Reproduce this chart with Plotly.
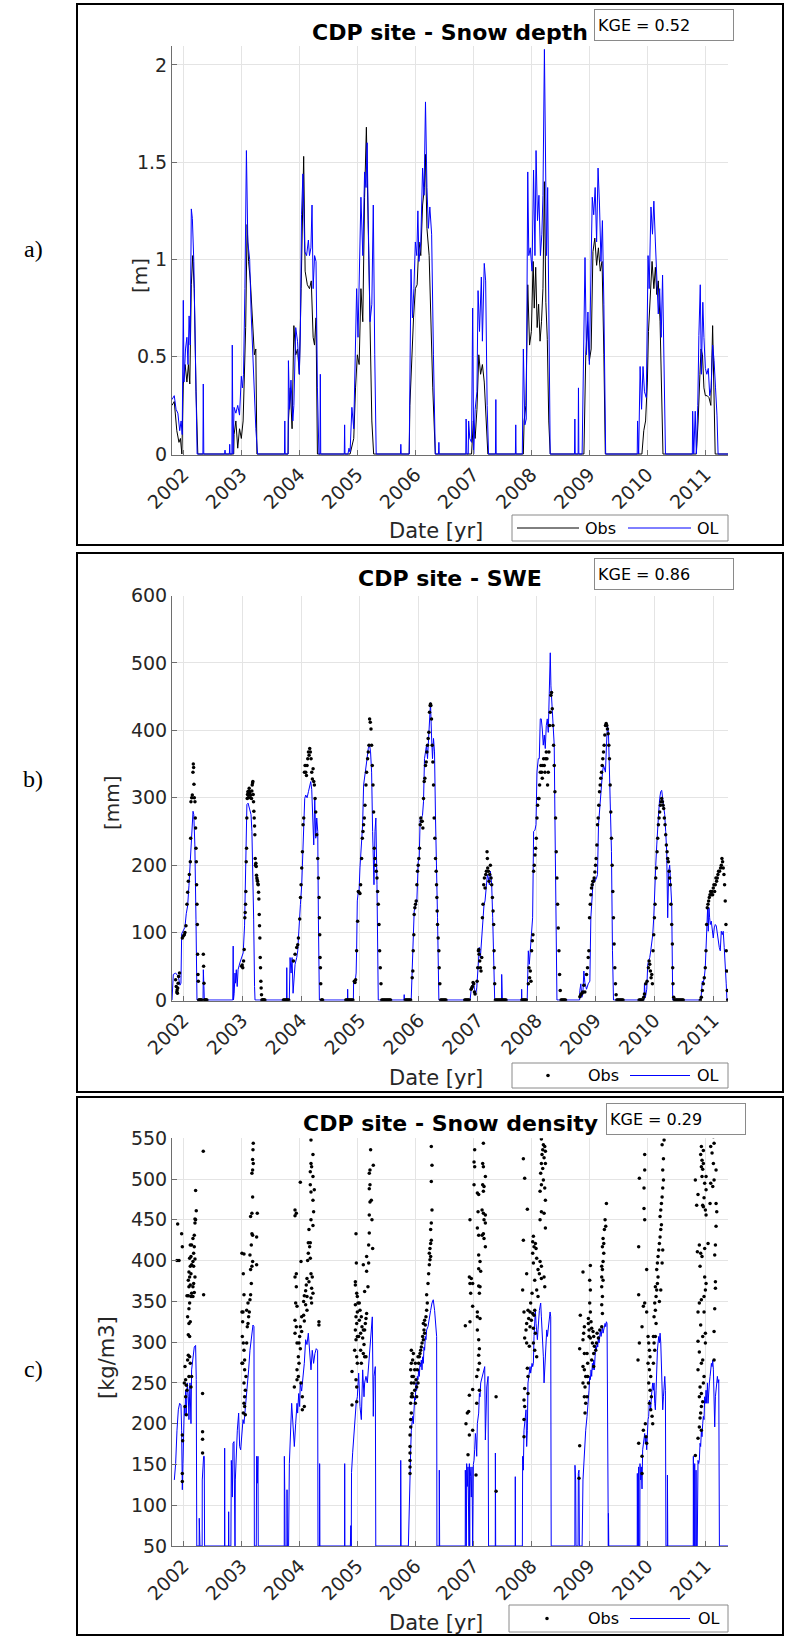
import plotly.graph_objects as go

# ---------------- axis ticks / labels ----------------
years = [2002, 2003, 2004, 2005, 2006, 2007, 2008, 2009, 2010, 2011]
year_labels = [str(y) for y in years]
depth_ticks = [0, 0.5, 1, 1.5, 2]
depth_tick_labels = ["0", "0.5", "1", "1.5", "2"]
swe_ticks = [0, 100, 200, 300, 400, 500, 600]
rho_ticks = [50, 100, 150, 200, 250, 300, 350, 400, 450, 500, 550]

kge_depth = "0.52"
kge_swe = "0.86"
kge_rho = "0.29"

# ---------------- snow depth [m]: (decimal year, value) ----------------
depth_obs = [
    (2001.805, 0.25), (2001.844, 0.27), (2001.888, 0.12), (2001.925, 0.06), (2001.950, 0.08), (2001.975, 0.0),
    (2002.000, 0.36), (2002.031, 0.46), (2002.062, 0.37), (2002.088, 0.46), (2002.112, 0.36), (2002.138, 0.87),
    (2002.162, 1.02), (2002.188, 0.85), (2002.219, 0.32), (2002.250, 0.0),
    (2002.869, 0.0), (2002.875, 0.10), (2002.906, 0.17), (2002.938, 0.03), (2002.969, 0.13), (2003.000, 0.08),
    (2003.031, 0.17), (2003.050, 0.42), (2003.075, 0.65), (2003.100, 1.18), (2003.125, 0.99), (2003.156, 0.89),
    (2003.188, 0.72), (2003.225, 0.51), (2003.250, 0.54), (2003.269, 0.0),
    (2003.806, 0.0), (2003.812, 0.17), (2003.844, 0.34), (2003.875, 0.13), (2003.906, 0.66), (2003.938, 0.51),
    (2003.969, 0.54), (2004.000, 0.41), (2004.031, 0.85), (2004.050, 1.23), (2004.075, 1.53), (2004.100, 0.94),
    (2004.138, 0.87), (2004.175, 0.85), (2004.206, 0.89), (2004.238, 0.60), (2004.262, 0.56), (2004.288, 0.70),
    (2004.312, 0.0),
    (2004.875, 0.0), (2004.938, 0.08), (2004.969, 0.34), (2005.000, 0.51), (2005.031, 0.46), (2005.062, 0.85),
    (2005.094, 0.68), (2005.125, 1.32), (2005.156, 1.68), (2005.175, 1.37), (2005.200, 0.85), (2005.225, 0.51),
    (2005.250, 0.17), (2005.281, 0.0),
    (2005.894, 0.0), (2005.906, 0.25), (2005.938, 0.51), (2005.969, 0.70), (2006.000, 0.85), (2006.031, 0.87),
    (2006.062, 1.09), (2006.094, 1.02), (2006.125, 1.28), (2006.156, 1.37), (2006.175, 1.54), (2006.200, 1.16),
    (2006.238, 1.02), (2006.269, 0.68), (2006.300, 0.34), (2006.344, 0.0),
    (2006.969, 0.0), (2007.000, 0.17), (2007.031, 0.08), (2007.062, 0.23), (2007.094, 0.51), (2007.125, 0.41),
    (2007.156, 0.46), (2007.188, 0.37), (2007.219, 0.18), (2007.250, 0.0),
    (2007.862, 0.0), (2007.875, 0.17), (2007.906, 0.25), (2007.938, 0.87), (2007.969, 0.56), (2008.000, 0.63),
    (2008.031, 0.99), (2008.050, 0.75), (2008.075, 0.96), (2008.100, 0.65), (2008.125, 0.77), (2008.150, 0.58),
    (2008.175, 0.68), (2008.200, 0.85), (2008.225, 1.40), (2008.250, 0.78), (2008.275, 0.59), (2008.300, 0.17),
    (2008.325, 0.0),
    (2008.906, 0.0), (2008.938, 0.51), (2008.969, 0.68), (2009.000, 0.48), (2009.031, 0.54), (2009.062, 1.04),
    (2009.094, 1.11), (2009.125, 0.97), (2009.156, 1.06), (2009.188, 0.94), (2009.219, 0.99), (2009.250, 0.51),
    (2009.275, 0.0),
    (2009.906, 0.0), (2009.938, 0.12), (2009.969, 0.17), (2010.000, 0.37), (2010.019, 0.63), (2010.050, 0.78),
    (2010.081, 0.99), (2010.112, 0.85), (2010.138, 0.96), (2010.162, 0.82), (2010.188, 0.89), (2010.219, 0.68),
    (2010.250, 0.32), (2010.269, 0.0),
    (2010.844, 0.0), (2010.875, 0.17), (2010.906, 0.41), (2010.925, 0.54), (2010.950, 0.51), (2010.975, 0.34),
    (2011.000, 0.30), (2011.031, 0.30), (2011.062, 0.29), (2011.094, 0.25), (2011.125, 0.66), (2011.144, 0.34),
    (2011.169, 0.0), (2011.390, 0.0),
]

depth_ol = [
    (2001.805, 0.28), (2001.844, 0.30), (2001.875, 0.23), (2001.906, 0.21), (2001.938, 0.12), (2001.962, 0.17),
    (2001.981, 0.10), (2002.000, 0.79), (2002.012, 0.37), (2002.038, 0.54), (2002.062, 0.60), (2002.081, 0.46),
    (2002.100, 0.71), (2002.119, 0.56), (2002.138, 1.26), (2002.156, 1.21), (2002.181, 0.99), (2002.212, 0.34),
    (2002.238, 0.0), (2002.338, 0.0), (2002.344, 0.36), (2002.353, 0.0),
    (2002.712, 0.0), (2002.719, 0.02), (2002.725, 0.0), (2002.794, 0.0), (2002.800, 0.05), (2002.806, 0.0),
    (2002.838, 0.0), (2002.844, 0.56), (2002.856, 0.0), (2002.875, 0.24), (2002.906, 0.21), (2002.938, 0.25),
    (2002.969, 0.20), (2003.000, 0.40), (2003.019, 0.34), (2003.038, 0.41), (2003.062, 0.85), (2003.088, 1.56),
    (2003.112, 1.09), (2003.144, 1.00), (2003.169, 0.73), (2003.200, 0.51), (2003.231, 0.25), (2003.250, 0.13),
    (2003.281, 0.0),
    (2003.744, 0.0), (2003.750, 0.17), (2003.756, 0.0), (2003.806, 0.0), (2003.812, 0.48), (2003.831, 0.23),
    (2003.856, 0.38), (2003.888, 0.17), (2003.906, 0.25), (2003.938, 0.65), (2003.969, 0.58), (2004.000, 0.41),
    (2004.019, 0.65), (2004.038, 1.23), (2004.062, 1.44), (2004.094, 1.04), (2004.125, 1.02), (2004.156, 1.10),
    (2004.175, 1.02), (2004.200, 1.06), (2004.219, 1.28), (2004.238, 0.85), (2004.263, 1.02), (2004.288, 0.99),
    (2004.312, 0.34), (2004.338, 0.0), (2004.356, 0.0), (2004.362, 0.41), (2004.369, 0.0),
    (2004.775, 0.0), (2004.781, 0.15), (2004.787, 0.0), (2004.838, 0.0), (2004.856, 0.03), (2004.875, 0.01),
    (2004.906, 0.24), (2004.938, 0.13), (2004.969, 0.58), (2004.988, 0.85), (2005.012, 0.60), (2005.044, 1.11),
    (2005.062, 1.32), (2005.094, 1.02), (2005.125, 1.45), (2005.150, 1.37), (2005.169, 1.60), (2005.188, 1.20),
    (2005.219, 0.68), (2005.250, 0.77), (2005.275, 1.28), (2005.300, 0.51), (2005.325, 0.0),
    (2005.744, 0.0), (2005.750, 0.05), (2005.756, 0.0), (2005.894, 0.0), (2005.906, 0.51), (2005.925, 0.95),
    (2005.950, 0.70), (2005.975, 0.85), (2006.000, 1.09), (2006.025, 1.02), (2006.044, 1.25), (2006.062, 0.99),
    (2006.094, 1.09), (2006.125, 1.47), (2006.150, 1.33), (2006.175, 1.81), (2006.200, 1.37), (2006.225, 1.16),
    (2006.250, 1.27), (2006.281, 1.13), (2006.312, 0.51), (2006.344, 0.0), (2006.400, 0.0), (2006.406, 0.06),
    (2006.412, 0.0),
    (2006.869, 0.0), (2006.875, 0.18), (2006.888, 0.0), (2006.912, 0.0), (2006.919, 0.17), (2006.938, 0.08),
    (2006.969, 0.06), (2006.988, 0.75), (2007.006, 0.0), (2007.031, 0.23), (2007.062, 0.32), (2007.081, 0.84),
    (2007.106, 0.63), (2007.138, 0.91), (2007.156, 0.58), (2007.188, 0.98), (2007.212, 0.89), (2007.238, 0.25),
    (2007.262, 0.0), (2007.381, 0.0), (2007.388, 0.28), (2007.394, 0.0),
    (2007.725, 0.0), (2007.731, 0.15), (2007.737, 0.0), (2007.844, 0.0), (2007.862, 0.54), (2007.888, 0.15),
    (2007.912, 0.18), (2007.938, 1.45), (2007.956, 1.02), (2007.981, 1.06), (2008.012, 0.94), (2008.038, 1.46),
    (2008.062, 1.02), (2008.081, 1.56), (2008.106, 1.20), (2008.131, 1.33), (2008.156, 1.02), (2008.181, 1.13),
    (2008.200, 1.33), (2008.225, 2.08), (2008.244, 1.40), (2008.262, 1.02), (2008.281, 1.37), (2008.300, 0.85),
    (2008.325, 0.0),
    (2008.744, 0.0), (2008.750, 0.18), (2008.756, 0.0), (2008.806, 0.0), (2008.812, 0.34), (2008.819, 0.0),
    (2008.875, 0.0), (2008.894, 0.34), (2008.925, 1.01), (2008.950, 0.51), (2008.975, 0.73), (2009.000, 0.46),
    (2009.031, 0.92), (2009.050, 1.32), (2009.075, 1.23), (2009.100, 1.37), (2009.125, 1.09), (2009.150, 1.47),
    (2009.175, 1.28), (2009.200, 0.99), (2009.225, 1.20), (2009.250, 0.77), (2009.281, 0.0),
    (2009.825, 0.0), (2009.831, 0.17), (2009.850, 0.0), (2009.875, 0.45), (2009.900, 0.23), (2009.925, 0.45),
    (2009.950, 0.32), (2009.981, 0.29), (2010.012, 1.02), (2010.031, 0.85), (2010.062, 1.27), (2010.088, 1.13),
    (2010.112, 1.30), (2010.138, 1.09), (2010.162, 0.94), (2010.188, 0.72), (2010.212, 0.85), (2010.238, 0.60),
    (2010.262, 0.92), (2010.288, 0.51), (2010.312, 0.0),
    (2010.775, 0.0), (2010.781, 0.22), (2010.800, 0.0), (2010.825, 0.22), (2010.844, 0.0), (2010.869, 0.25),
    (2010.888, 0.61), (2010.912, 0.87), (2010.931, 0.41), (2010.956, 0.78), (2010.975, 0.60), (2011.000, 0.44),
    (2011.025, 0.41), (2011.050, 0.44), (2011.075, 0.30), (2011.100, 0.34), (2011.125, 0.56), (2011.150, 0.48),
    (2011.175, 0.34), (2011.200, 0.20), (2011.219, 0.0), (2011.390, 0.0),
]

# ---------------- SWE [mm] ----------------
swe_obs = [
    (2001.870, 30), (2001.880, 20), (2001.890, 12), (2001.895, 15), (2001.900, 10), (2001.905, 18), (2001.912, 25),
    (2001.920, 35), (2001.935, 40), (2001.983, 92), (2002.000, 95), (2002.017, 97), (2002.028, 100), (2002.045, 110),
    (2002.062, 142), (2002.074, 160), (2002.085, 176), (2002.102, 186), (2002.119, 205), (2002.125, 240),
    (2002.130, 294), (2002.142, 300), (2002.153, 304), (2002.164, 338), (2002.170, 350), (2002.175, 345),
    (2002.181, 320), (2002.187, 300), (2002.198, 294), (2002.204, 270), (2002.209, 255), (2002.215, 225),
    (2002.221, 205), (2002.226, 171), (2002.232, 142), (2002.238, 112), (2002.243, 68), (2002.249, 38),
    (2002.255, 28), (2002.262, 0), (2002.272, 0), (2002.282, 0), (2002.292, 0), (2002.302, 0), (2002.312, 0),
    (2002.340, 68), (2002.345, 50), (2002.351, 25), (2002.360, 0), (2002.370, 0), (2002.380, 0), (2002.390, 0),
    (2002.400, 0),
    (2002.990, 50), (2003.000, 52), (2003.010, 48), (2003.023, 58), (2003.034, 75), (2003.045, 122), (2003.051, 130),
    (2003.057, 142), (2003.062, 161), (2003.068, 205), (2003.074, 225), (2003.079, 270), (2003.085, 299),
    (2003.090, 305), (2003.096, 309), (2003.102, 300), (2003.108, 304), (2003.113, 310), (2003.119, 314),
    (2003.125, 306), (2003.130, 309), (2003.136, 300), (2003.147, 304), (2003.158, 299), (2003.164, 310),
    (2003.170, 319), (2003.176, 322), (2003.181, 324), (2003.187, 305), (2003.192, 294), (2003.198, 280),
    (2003.204, 270), (2003.210, 258), (2003.215, 245), (2003.221, 210), (2003.226, 200), (2003.232, 203),
    (2003.238, 198), (2003.243, 185), (2003.249, 181), (2003.255, 178), (2003.260, 176), (2003.266, 172),
    (2003.272, 171), (2003.278, 160), (2003.283, 150), (2003.289, 127), (2003.294, 110), (2003.300, 92),
    (2003.306, 63), (2003.311, 48), (2003.317, 28), (2003.322, 18), (2003.328, 8), (2003.335, 0), (2003.345, 0),
    (2003.355, 0), (2003.365, 0), (2003.375, 0), (2003.385, 0),
    (2003.700, 0), (2003.715, 0), (2003.730, 0), (2003.745, 0), (2003.760, 0), (2003.775, 0), (2003.790, 0),
    (2003.870, 58), (2003.898, 68), (2003.926, 78), (2003.943, 82), (2003.955, 92), (2003.977, 120), (2003.989, 152),
    (2004.000, 171), (2004.011, 196), (2004.023, 220), (2004.034, 260), (2004.045, 270), (2004.057, 338),
    (2004.068, 348), (2004.079, 338), (2004.091, 333), (2004.102, 348), (2004.113, 358), (2004.125, 368),
    (2004.136, 363), (2004.147, 373), (2004.158, 368), (2004.170, 358), (2004.181, 338), (2004.192, 328),
    (2004.204, 343), (2004.215, 324), (2004.226, 319), (2004.238, 299), (2004.249, 279), (2004.266, 245),
    (2004.283, 210), (2004.294, 181), (2004.305, 152), (2004.311, 122), (2004.317, 97), (2004.322, 63),
    (2004.328, 48), (2004.334, 24), (2004.345, 0), (2004.355, 0), (2004.365, 0),
    (2004.760, 0), (2004.775, 0), (2004.790, 0), (2004.805, 0), (2004.820, 0), (2004.835, 0), (2004.850, 0),
    (2004.865, 0), (2004.880, 0), (2004.904, 28), (2004.915, 26), (2004.926, 30), (2004.943, 73), (2004.960, 117),
    (2004.972, 161), (2004.983, 160), (2005.000, 158), (2005.011, 171), (2005.028, 210), (2005.040, 240),
    (2005.051, 250), (2005.062, 260), (2005.074, 270), (2005.085, 289), (2005.102, 319), (2005.113, 338),
    (2005.130, 358), (2005.141, 368), (2005.153, 378), (2005.164, 417), (2005.175, 412), (2005.187, 402),
    (2005.198, 378), (2005.209, 348), (2005.221, 319), (2005.232, 279), (2005.243, 225), (2005.255, 210),
    (2005.266, 200), (2005.277, 191), (2005.289, 181), (2005.300, 161), (2005.311, 142), (2005.323, 112),
    (2005.334, 73), (2005.345, 48), (2005.357, 24), (2005.370, 0), (2005.385, 0), (2005.400, 0), (2005.415, 0),
    (2005.430, 0), (2005.445, 0), (2005.460, 0), (2005.475, 0), (2005.490, 0), (2005.505, 0), (2005.520, 0),
    (2005.770, 0), (2005.785, 0), (2005.800, 0), (2005.815, 0), (2005.830, 0), (2005.845, 0), (2005.860, 0),
    (2005.887, 33), (2005.898, 43), (2005.904, 73), (2005.915, 97), (2005.921, 127), (2005.932, 137),
    (2005.943, 142), (2005.955, 147), (2005.966, 171), (2005.977, 191), (2005.989, 200), (2006.000, 210),
    (2006.011, 225), (2006.023, 260), (2006.034, 270), (2006.045, 265), (2006.057, 265), (2006.068, 255),
    (2006.079, 299), (2006.091, 324), (2006.102, 329), (2006.113, 348), (2006.125, 353), (2006.136, 368),
    (2006.147, 378), (2006.158, 388), (2006.170, 397), (2006.181, 427), (2006.192, 437), (2006.198, 439),
    (2006.204, 437), (2006.215, 417), (2006.226, 378), (2006.238, 353), (2006.249, 319), (2006.260, 270),
    (2006.272, 240), (2006.283, 210), (2006.294, 191), (2006.300, 171), (2006.306, 152), (2006.311, 132),
    (2006.317, 112), (2006.328, 92), (2006.340, 73), (2006.345, 48), (2006.357, 24), (2006.370, 0), (2006.385, 0),
    (2006.400, 0), (2006.415, 0), (2006.430, 0), (2006.445, 0), (2006.460, 0),
    (2006.780, 0), (2006.795, 0), (2006.810, 0), (2006.825, 0), (2006.840, 0), (2006.855, 0), (2006.887, 16),
    (2006.898, 18), (2006.910, 20), (2006.921, 26), (2006.932, 24), (2006.944, 12), (2006.955, 9), (2006.989, 28),
    (2007.000, 48), (2007.011, 73), (2007.017, 75), (2007.023, 68), (2007.034, 58), (2007.045, 48), (2007.056, 43),
    (2007.068, 63), (2007.079, 122), (2007.090, 142), (2007.102, 171), (2007.113, 181), (2007.124, 166),
    (2007.136, 186), (2007.147, 191), (2007.158, 220), (2007.164, 210), (2007.169, 196), (2007.181, 191),
    (2007.192, 176), (2007.203, 186), (2007.215, 200), (2007.226, 181), (2007.237, 171), (2007.249, 152),
    (2007.260, 132), (2007.271, 112), (2007.277, 73), (2007.282, 48), (2007.288, 24), (2007.300, 0), (2007.315, 0),
    (2007.330, 0), (2007.345, 0), (2007.360, 0), (2007.375, 0), (2007.390, 0), (2007.405, 0), (2007.420, 0),
    (2007.435, 0), (2007.450, 0), (2007.465, 0), (2007.480, 0),
    (2007.750, 0), (2007.765, 0), (2007.780, 0), (2007.795, 0), (2007.810, 0), (2007.825, 0), (2007.859, 24),
    (2007.870, 48), (2007.881, 33), (2007.893, 43), (2007.904, 28), (2007.915, 73), (2007.927, 88), (2007.938, 97),
    (2007.949, 191), (2007.960, 200), (2007.972, 215), (2007.983, 225), (2007.994, 240), (2008.006, 270),
    (2008.017, 289), (2008.028, 299), (2008.040, 299), (2008.051, 319), (2008.062, 338), (2008.073, 348),
    (2008.085, 338), (2008.096, 329), (2008.107, 348), (2008.119, 358), (2008.130, 348), (2008.141, 338),
    (2008.153, 358), (2008.164, 368), (2008.175, 358), (2008.186, 319), (2008.198, 338), (2008.209, 368),
    (2008.220, 407), (2008.232, 427), (2008.243, 452), (2008.254, 456), (2008.266, 432), (2008.277, 407),
    (2008.288, 378), (2008.299, 348), (2008.311, 309), (2008.322, 270), (2008.333, 220), (2008.345, 181),
    (2008.356, 142), (2008.367, 107), (2008.379, 73), (2008.390, 38), (2008.401, 14), (2008.415, 0), (2008.430, 0),
    (2008.445, 0), (2008.460, 0), (2008.475, 0), (2008.490, 0),
    (2008.734, 5), (2008.751, 8), (2008.768, 10), (2008.785, 12), (2008.802, 22), (2008.819, 12), (2008.847, 38),
    (2008.864, 48), (2008.876, 63), (2008.887, 73), (2008.898, 122), (2008.910, 142), (2008.921, 156),
    (2008.932, 166), (2008.944, 171), (2008.955, 176), (2008.966, 176), (2008.977, 181), (2008.989, 190),
    (2009.000, 200), (2009.011, 210), (2009.023, 230), (2009.034, 260), (2009.045, 270), (2009.056, 289),
    (2009.068, 309), (2009.079, 319), (2009.090, 329), (2009.102, 338), (2009.113, 348), (2009.124, 358),
    (2009.136, 368), (2009.147, 378), (2009.158, 393), (2009.169, 407), (2009.181, 410), (2009.192, 407),
    (2009.203, 402), (2009.215, 395), (2009.226, 378), (2009.237, 358), (2009.249, 319), (2009.260, 279),
    (2009.271, 240), (2009.282, 200), (2009.294, 161), (2009.305, 122), (2009.316, 83), (2009.328, 48),
    (2009.339, 24), (2009.350, 8), (2009.362, 0), (2009.377, 0), (2009.392, 0), (2009.407, 0), (2009.422, 0),
    (2009.437, 0), (2009.452, 0), (2009.467, 0),
    (2009.740, 0), (2009.755, 0), (2009.770, 0), (2009.785, 0), (2009.800, 0), (2009.819, 4), (2009.831, 9),
    (2009.853, 24), (2009.876, 28), (2009.898, 48), (2009.910, 58), (2009.921, 53), (2009.932, 43), (2009.944, 33),
    (2009.955, 38), (2009.966, 24), (2009.977, 73), (2009.989, 97), (2010.000, 122), (2010.011, 142),
    (2010.023, 181), (2010.034, 196), (2010.045, 220), (2010.056, 240), (2010.068, 260), (2010.079, 270),
    (2010.090, 279), (2010.102, 289), (2010.113, 294), (2010.124, 299), (2010.136, 294), (2010.147, 289),
    (2010.158, 284), (2010.169, 270), (2010.181, 260), (2010.192, 245), (2010.203, 230), (2010.215, 220),
    (2010.226, 210), (2010.237, 205), (2010.249, 191), (2010.260, 181), (2010.271, 171), (2010.282, 142),
    (2010.294, 112), (2010.305, 83), (2010.311, 48), (2010.316, 24), (2010.328, 4), (2010.340, 0), (2010.355, 0),
    (2010.370, 0), (2010.385, 0), (2010.400, 0), (2010.415, 0), (2010.430, 0), (2010.445, 0), (2010.460, 0),
    (2010.475, 0), (2010.490, 0),
    (2010.780, 0), (2010.797, 4), (2010.814, 14), (2010.831, 24), (2010.847, 33), (2010.864, 48), (2010.876, 73),
    (2010.887, 112), (2010.898, 137), (2010.910, 142), (2010.921, 147), (2010.932, 152), (2010.944, 156),
    (2010.955, 161), (2010.966, 156), (2010.977, 161), (2010.989, 156), (2011.000, 166), (2011.011, 171),
    (2011.023, 161), (2011.034, 171), (2011.045, 181), (2011.056, 176), (2011.068, 181), (2011.079, 186),
    (2011.090, 191), (2011.107, 191), (2011.124, 196), (2011.136, 200), (2011.147, 210), (2011.158, 205),
    (2011.169, 196), (2011.181, 186), (2011.192, 171), (2011.203, 147), (2011.215, 112), (2011.220, 73),
    (2011.226, 43), (2011.237, 14), (2011.245, 0),
]

swe_ol = [
    (2001.808, 0), (2001.830, 38), (2001.870, 40), (2001.915, 35), (2001.943, 22), (2001.960, 25), (2001.972, 98),
    (2002.000, 103), (2002.028, 108), (2002.050, 128), (2002.074, 140), (2002.096, 170), (2002.130, 225),
    (2002.165, 280), (2002.178, 275), (2002.196, 230), (2002.215, 120), (2002.232, 0), (2002.335, 0),
    (2002.340, 45), (2002.350, 20), (2002.357, 0),
    (2002.840, 0), (2002.847, 80), (2002.852, 0), (2002.864, 10), (2002.878, 40), (2002.887, 25), (2002.900, 45),
    (2002.915, 20), (2002.930, 45), (2002.960, 55), (2002.989, 62), (2003.017, 70), (2003.040, 110),
    (2003.060, 200), (2003.080, 290), (2003.100, 292), (2003.125, 285), (2003.150, 275), (2003.165, 250),
    (2003.178, 205), (2003.195, 120), (2003.210, 20), (2003.218, 0),
    (2003.754, 0), (2003.757, 48), (2003.762, 0), (2003.800, 0), (2003.813, 63), (2003.830, 40), (2003.847, 63),
    (2003.864, 10), (2003.881, 40), (2003.898, 53), (2003.926, 63), (2003.943, 73), (2003.955, 92),
    (2003.972, 127), (2003.989, 142), (2004.011, 171), (2004.028, 220), (2004.045, 270), (2004.062, 299),
    (2004.079, 304), (2004.102, 300), (2004.125, 309), (2004.147, 319), (2004.164, 324), (2004.181, 312),
    (2004.198, 270), (2004.215, 230), (2004.232, 299), (2004.249, 240), (2004.266, 270), (2004.283, 250),
    (2004.294, 122), (2004.311, 0),
    (2004.788, 0), (2004.791, 16), (2004.795, 0), (2004.888, 0), (2004.892, 26), (2004.915, 24), (2004.935, 40),
    (2004.943, 73), (2004.955, 147), (2004.972, 161), (2004.983, 158), (2005.000, 196), (2005.028, 240),
    (2005.045, 260), (2005.062, 319), (2005.085, 338), (2005.113, 353), (2005.141, 373), (2005.164, 378),
    (2005.180, 368), (2005.198, 338), (2005.215, 250), (2005.225, 210), (2005.238, 171), (2005.255, 250),
    (2005.270, 270), (2005.289, 171), (2005.300, 40), (2005.311, 0),
    (2005.748, 0), (2005.751, 8), (2005.755, 0), (2005.870, 0), (2005.875, 24), (2005.898, 73), (2005.921, 132),
    (2005.943, 142), (2005.966, 147), (2005.989, 205), (2006.006, 210), (2006.023, 270), (2006.045, 270),
    (2006.062, 274), (2006.079, 294), (2006.096, 358), (2006.113, 368), (2006.130, 378), (2006.147, 358),
    (2006.164, 388), (2006.181, 397), (2006.198, 441), (2006.215, 393), (2006.232, 358), (2006.249, 388),
    (2006.266, 368), (2006.283, 270), (2006.300, 210), (2006.317, 122), (2006.340, 0),
    (2006.870, 0), (2006.887, 14), (2006.910, 24), (2006.927, 28), (2006.944, 16), (2006.966, 9), (2006.983, 18),
    (2007.000, 38), (2007.011, 48), (2007.028, 78), (2007.045, 63), (2007.068, 92), (2007.090, 122),
    (2007.107, 142), (2007.124, 147), (2007.147, 171), (2007.164, 186), (2007.181, 181), (2007.198, 171),
    (2007.215, 191), (2007.237, 171), (2007.254, 122), (2007.271, 73), (2007.288, 0), (2007.405, 0),
    (2007.407, 38), (2007.418, 0),
    (2007.743, 0), (2007.746, 16), (2007.750, 0), (2007.840, 0), (2007.847, 38), (2007.859, 73), (2007.876, 53),
    (2007.893, 78), (2007.915, 92), (2007.932, 122), (2007.949, 250), (2007.972, 252), (2007.989, 260),
    (2008.006, 338), (2008.028, 358), (2008.045, 358), (2008.062, 417), (2008.079, 417), (2008.096, 402),
    (2008.113, 378), (2008.130, 393), (2008.147, 373), (2008.164, 407), (2008.181, 417), (2008.198, 397),
    (2008.215, 462), (2008.232, 515), (2008.243, 466), (2008.254, 447), (2008.271, 417), (2008.288, 407),
    (2008.299, 378), (2008.311, 270), (2008.328, 122), (2008.345, 0),
    (2008.730, 0), (2008.734, 14), (2008.751, 24), (2008.768, 4), (2008.785, 9), (2008.802, 43), (2008.819, 26),
    (2008.847, 16), (2008.876, 24), (2008.904, 28), (2008.921, 122), (2008.938, 161), (2008.955, 171),
    (2008.972, 181), (2008.989, 176), (2009.017, 181), (2009.034, 186), (2009.051, 260), (2009.068, 279),
    (2009.085, 309), (2009.102, 319), (2009.119, 338), (2009.136, 348), (2009.153, 343), (2009.169, 338),
    (2009.186, 378), (2009.203, 407), (2009.220, 397), (2009.237, 338), (2009.254, 309), (2009.271, 220),
    (2009.288, 73), (2009.305, 0),
    (2009.825, 0), (2009.831, 24), (2009.847, 4), (2009.870, 16), (2009.887, 53), (2009.904, 58), (2009.921, 63),
    (2009.938, 73), (2009.955, 83), (2009.972, 97), (2009.989, 122), (2010.006, 181), (2010.023, 200),
    (2010.040, 230), (2010.056, 260), (2010.073, 279), (2010.090, 299), (2010.107, 309), (2010.124, 311),
    (2010.141, 299), (2010.158, 289), (2010.175, 275), (2010.192, 250), (2010.209, 220), (2010.226, 122),
    (2010.243, 191), (2010.260, 200), (2010.277, 171), (2010.294, 142), (2010.311, 0),
    (2010.790, 0), (2010.797, 9), (2010.814, 28), (2010.831, 26), (2010.847, 33), (2010.864, 48), (2010.881, 83),
    (2010.893, 122), (2010.904, 137), (2010.915, 102), (2010.927, 137), (2010.938, 122), (2010.949, 112),
    (2010.966, 117), (2010.983, 107), (2011.000, 92), (2011.017, 107), (2011.034, 112), (2011.051, 110),
    (2011.068, 97), (2011.085, 88), (2011.102, 78), (2011.119, 73), (2011.136, 102), (2011.153, 97),
    (2011.169, 102), (2011.186, 78), (2011.203, 58), (2011.220, 24), (2011.232, 0), (2011.250, 0),
]

# ---------------- snow density [kg/m3] ----------------
rho_obs = [
    # 2001-02
    (2001.891, 400), (2001.903, 445), (2001.926, 400), (2001.971, 433), (2001.983, 417), (2001.983, 186),
    (2001.989, 179), (2001.983, 139), (2001.983, 129), (2002.017, 250), (2002.029, 270), (2002.029, 221),
    (2002.040, 254), (2002.040, 233), (2002.052, 247), (2002.052, 211), (2002.063, 241), (2002.063, 357),
    (2002.074, 278), (2002.074, 331), (2002.086, 284), (2002.086, 309), (2002.086, 357), (2002.086, 376),
    (2002.097, 258), (2002.097, 323), (2002.097, 341), (2002.097, 368), (2002.097, 386), (2002.109, 282),
    (2002.109, 307), (2002.109, 348), (2002.109, 380), (2002.109, 403), (2002.120, 274), (2002.120, 325),
    (2002.120, 370), (2002.120, 393), (2002.120, 419), (2002.132, 245), (2002.132, 356), (2002.132, 384),
    (2002.132, 405), (2002.143, 258), (2002.143, 360), (2002.143, 395), (2002.143, 419), (2002.166, 356),
    (2002.166, 368), (2002.166, 399), (2002.166, 427), (2002.178, 372), (2002.178, 393), (2002.178, 409),
    (2002.189, 361), (2002.189, 417), (2002.189, 431), (2002.201, 380), (2002.201, 402), (2002.201, 446),
    (2002.201, 451), (2002.212, 450), (2002.212, 486), (2002.223, 461), (2002.332, 164), (2002.332, 181),
    (2002.332, 190), (2002.332, 237), (2002.344, 534), (2002.350, 358),
    # 2002-03
    (2003.011, 409), (2003.046, 408), (2003.034, 384), (2003.046, 358), (2003.029, 337), (2003.011, 337),
    (2003.023, 325), (2003.017, 307), (2003.034, 299), (2003.046, 290), (2003.023, 274), (2003.011, 274),
    (2003.057, 278), (2003.057, 266), (2003.080, 258), (2003.046, 250), (2003.069, 241), (2003.057, 233),
    (2003.046, 225), (2003.057, 221), (2003.034, 213), (2003.069, 211), (2003.092, 299), (2003.103, 319),
    (2003.115, 323), (2003.126, 331), (2003.092, 339), (2003.115, 348), (2003.138, 337), (2003.149, 352),
    (2003.160, 358), (2003.172, 372), (2003.160, 389), (2003.183, 393), (2003.195, 399), (2003.149, 407),
    (2003.172, 419), (2003.183, 433), (2003.195, 431), (2003.160, 454), (2003.183, 458), (2003.195, 478),
    (2003.183, 507), (2003.195, 511), (2003.206, 519), (2003.195, 524), (2003.201, 536), (2003.206, 544),
    (2003.275, 458), (2003.264, 429), (2003.264, 395),
    # 2003-04
    (2003.914, 245), (2003.926, 462), (2003.926, 455), (2003.926, 311), (2003.926, 327), (2003.926, 380),
    (2003.937, 348), (2003.948, 458), (2003.948, 319), (2003.948, 368), (2003.948, 384), (2003.960, 266),
    (2003.960, 254), (2003.960, 299), (2003.960, 344), (2003.983, 282), (2003.983, 258), (2003.994, 299),
    (2003.994, 274), (2004.006, 307), (2004.017, 496), (2004.017, 319), (2004.017, 292), (2004.029, 250),
    (2004.029, 399), (2004.040, 331), (2004.040, 313), (2004.052, 233), (2004.052, 217), (2004.074, 350),
    (2004.074, 333), (2004.086, 357), (2004.086, 326), (2004.086, 221), (2004.109, 363), (2004.109, 346),
    (2004.120, 370), (2004.132, 378), (2004.132, 356), (2004.132, 339), (2004.143, 400), (2004.155, 422),
    (2004.155, 409), (2004.166, 438), (2004.166, 374), (2004.178, 417), (2004.189, 422), (2004.189, 403),
    (2004.189, 493), (2004.189, 509), (2004.201, 548), (2004.201, 519), (2004.201, 484), (2004.201, 450),
    (2004.201, 384), (2004.201, 354), (2004.212, 515), (2004.212, 366), (2004.212, 348), (2004.223, 380),
    (2004.235, 530), (2004.235, 503), (2004.235, 474), (2004.235, 443), (2004.235, 360), (2004.246, 460),
    (2004.258, 487), (2004.338, 325), (2004.338, 321),
    # 2004-05
    (2004.908, 264), (2004.908, 223), (2004.954, 290), (2004.966, 374), (2004.966, 370), (2004.966, 346),
    (2004.966, 315), (2004.977, 433), (2004.977, 331), (2004.977, 303), (2004.977, 254), (2004.983, 397),
    (2004.989, 360), (2004.989, 323), (2004.989, 282), (2004.989, 245), (2004.989, 227), (2005.000, 356),
    (2005.000, 307), (2005.000, 274), (2005.011, 348), (2005.000, 337), (2005.023, 307), (2005.034, 348),
    (2005.034, 327), (2005.046, 339), (2005.057, 311), (2005.057, 290), (2005.069, 331), (2005.069, 274),
    (2005.080, 319), (2005.092, 305), (2005.103, 315), (2005.103, 395), (2005.103, 286), (2005.115, 297),
    (2005.126, 315), (2005.126, 282), (2005.126, 362), (2005.138, 323), (2005.149, 329), (2005.149, 282),
    (2005.160, 335), (2005.160, 405), (2005.160, 387), (2005.183, 368), (2005.195, 397), (2005.195, 419),
    (2005.206, 434), (2005.206, 456), (2005.206, 488), (2005.206, 507), (2005.218, 472), (2005.218, 493),
    (2005.218, 511), (2005.229, 536), (2005.241, 474), (2005.252, 450), (2005.264, 415), (2005.275, 517),
    # 2005-06
    (2005.908, 139), (2005.908, 147), (2005.908, 155), (2005.908, 164), (2005.908, 172), (2005.908, 186),
    (2005.920, 196), (2005.920, 205), (2005.931, 213), (2005.920, 225), (2005.931, 233), (2005.943, 237),
    (2005.931, 250), (2005.943, 258), (2005.920, 266), (2005.931, 274), (2005.954, 278), (2005.966, 286),
    (2005.931, 290), (2005.966, 258), (2005.977, 250), (2005.989, 241), (2005.954, 233), (2006.000, 225),
    (2006.000, 274), (2005.989, 266), (2006.011, 254), (2006.023, 245), (2006.023, 233), (2006.046, 250),
    (2006.034, 266), (2006.057, 274), (2006.069, 282), (2006.080, 286), (2006.092, 290), (2006.046, 282),
    (2006.103, 294), (2006.115, 299), (2006.126, 307), (2006.138, 303), (2006.149, 315), (2006.160, 311),
    (2006.172, 321), (2006.183, 331), (2006.195, 339), (2006.160, 327), (2006.138, 323), (2006.206, 348),
    (2006.195, 358), (2006.218, 372), (2006.229, 384), (2006.241, 395), (2006.252, 401), (2006.264, 405),
    (2006.241, 409), (2006.252, 415), (2006.264, 421), (2006.275, 425), (2006.264, 438), (2006.275, 446),
    (2006.287, 462), (2006.275, 497), (2006.287, 517), (2006.275, 540),
    # 2006-07
    (2007.023, 536), (2007.012, 521), (2007.023, 515), (2007.012, 493), (2006.942, 450), (2007.069, 483),
    (2007.092, 481), (2007.081, 460), (2007.173, 544), (2007.161, 519), (2007.173, 515), (2007.207, 503),
    (2007.161, 493), (2007.184, 491), (2007.173, 485), (2007.150, 462), (2007.173, 458), (2007.207, 456),
    (2007.184, 450), (2007.207, 446), (2007.069, 440), (2007.092, 431), (2007.150, 431), (2007.184, 427),
    (2007.173, 433), (2007.207, 417), (2007.092, 407), (2007.115, 399), (2007.092, 390), (2007.127, 387),
    (2006.931, 380), (2006.965, 378), (2006.942, 372), (2006.988, 372), (2006.954, 360), (2007.092, 369),
    (2007.115, 368), (2007.104, 360), (2006.988, 344), (2007.069, 337), (2007.069, 331), (2007.115, 329),
    (2006.862, 320), (2006.942, 325), (2007.069, 315), (2007.092, 303), (2007.104, 292), (2007.092, 284),
    (2007.104, 274), (2007.081, 266), (2007.058, 258), (2007.104, 241), (2006.988, 242), (2006.931, 235),
    (2007.058, 225), (2006.896, 213), (2006.919, 215), (2006.873, 200), (2006.931, 186), (2006.988, 192),
    (2006.908, 162), (2007.046, 137), (2007.392, 233), (2007.392, 117),
    # 2007-08
    (2008.173, 549), (2008.207, 542), (2008.231, 540), (2008.196, 536), (2008.242, 534), (2008.184, 530),
    (2008.219, 526), (2008.173, 519), (2008.242, 519), (2008.196, 513), (2008.161, 507), (2008.207, 499),
    (2008.173, 493), (2008.231, 489), (2008.150, 485), (2008.242, 474), (2007.862, 525), (2007.885, 501),
    (2007.931, 463), (2008.173, 460), (2008.219, 458), (2008.150, 450), (2008.242, 440), (2007.862, 425),
    (2008.035, 430), (2008.023, 423), (2008.069, 421), (2008.046, 417), (2008.081, 415), (2008.023, 409),
    (2008.092, 403), (2008.035, 397), (2008.150, 399), (2008.173, 393), (2008.115, 389), (2008.138, 384),
    (2008.219, 380), (2008.058, 376), (2008.173, 378), (2007.919, 384), (2008.092, 364), (2008.231, 368),
    (2007.850, 364), (2008.012, 360), (2008.115, 356), (2007.988, 348), (2007.942, 339), (2007.873, 337),
    (2007.977, 337), (2008.023, 335), (2008.046, 333), (2008.058, 339), (2007.954, 329), (2008.000, 327),
    (2007.919, 323), (2007.977, 319), (2007.908, 315), (2008.035, 317), (2008.069, 311), (2007.885, 305),
    (2007.919, 299), (2007.965, 295), (2008.035, 299), (2008.058, 290), (2008.092, 282), (2007.931, 268),
    (2007.942, 258), (2007.885, 243), (2007.942, 237), (2007.873, 229), (2007.885, 221), (2007.873, 205),
    (2007.873, 184),
    # 2008-09
    (2008.890, 386), (2009.017, 394), (2009.006, 376), (2009.017, 364), (2009.006, 348), (2009.017, 337),
    (2008.983, 329), (2008.844, 333), (2008.914, 319), (2008.902, 311), (2008.890, 303), (2008.833, 292),
    (2008.914, 286), (2008.890, 270), (2008.914, 266), (2008.937, 258), (2008.890, 250), (2008.925, 245),
    (2008.914, 233), (2008.937, 225), (2008.925, 213), (2008.833, 173), (2008.821, 133), (2008.960, 286),
    (2008.971, 274), (2008.971, 258), (2008.983, 250), (2008.960, 233), (2008.994, 307), (2008.994, 315),
    (2008.983, 323), (2009.029, 325), (2009.040, 317), (2009.017, 305), (2009.063, 313), (2009.075, 307),
    (2009.052, 299), (2009.086, 295), (2009.075, 286), (2009.040, 278), (2009.075, 270), (2009.110, 290),
    (2009.133, 311), (2009.156, 305), (2009.121, 299), (2009.179, 315), (2009.213, 319), (2009.225, 335),
    (2009.213, 346), (2009.225, 356), (2009.213, 368), (2009.236, 376), (2009.225, 389), (2009.236, 399),
    (2009.248, 409), (2009.225, 417), (2009.236, 427), (2009.259, 438), (2009.282, 442), (2009.271, 450),
    (2009.294, 470), (2009.213, 380), (2009.213, 393), (2009.248, 421),
    # 2009-10
    (2009.954, 530), (2009.954, 511), (2009.862, 501), (2009.942, 489), (2009.942, 464), (2009.954, 450),
    (2009.850, 417), (2009.988, 389), (2009.850, 358), (2009.954, 348), (2009.931, 344), (2009.988, 337),
    (2009.839, 278), (2009.862, 299), (2009.908, 319), (2009.850, 176), (2009.908, 160), (2009.908, 139),
    (2009.931, 192), (2009.965, 200), (2009.977, 184), (2009.988, 176), (2010.012, 307), (2010.023, 299),
    (2010.035, 290), (2010.046, 282), (2010.012, 274), (2010.035, 266), (2010.058, 258), (2010.023, 250),
    (2010.046, 241), (2010.069, 233), (2010.035, 225), (2010.058, 217), (2010.081, 209), (2010.092, 200),
    (2010.104, 307), (2010.115, 299), (2010.127, 290), (2010.104, 274), (2010.138, 307), (2010.150, 323),
    (2010.115, 331), (2010.138, 339), (2010.127, 348), (2010.150, 356), (2010.161, 364), (2010.138, 368),
    (2010.173, 372), (2010.184, 380), (2010.161, 389), (2010.173, 397), (2010.184, 405), (2010.196, 413),
    (2010.207, 421), (2010.219, 429), (2010.231, 438), (2010.242, 444), (2010.219, 454), (2010.231, 462),
    (2010.242, 470), (2010.254, 478), (2010.265, 489), (2010.277, 499), (2010.265, 511), (2010.277, 525),
    (2010.254, 542), (2010.288, 548), (2010.207, 350), (2010.231, 364), (2010.254, 397), (2010.265, 413),
    # 2010-11
    (2010.931, 540), (2010.965, 535), (2010.919, 530), (2010.942, 523), (2010.931, 515), (2010.954, 512),
    (2010.965, 519), (2010.942, 503), (2011.012, 503), (2010.988, 495), (2011.012, 487), (2010.977, 477),
    (2010.954, 468), (2011.138, 552), (2011.150, 544), (2011.092, 540), (2011.115, 532), (2011.138, 519),
    (2011.184, 511), (2011.150, 499), (2011.127, 491), (2011.184, 470), (2011.196, 460), (2011.184, 442),
    (2011.173, 419), (2011.161, 407), (2011.173, 374), (2011.173, 366), (2011.161, 341), (2011.150, 313),
    (2011.150, 278), (2011.092, 495), (2011.081, 470), (2011.012, 456), (2010.965, 466), (2011.000, 462),
    (2010.873, 481), (2010.827, 499), (2010.850, 468), (2010.896, 419), (2010.862, 411), (2010.919, 409),
    (2010.942, 405), (2010.988, 415), (2011.046, 421), (2010.908, 393), (2010.988, 380), (2011.012, 372),
    (2011.000, 364), (2010.977, 356), (2010.931, 352), (2010.896, 348), (2010.873, 337), (2010.977, 337),
    (2010.919, 321), (2011.000, 311), (2010.954, 307), (2011.000, 299), (2010.873, 301), (2010.896, 288),
    (2010.954, 278), (2010.931, 274), (2010.873, 266), (2010.977, 258), (2010.965, 250), (2010.908, 245),
    (2010.931, 237), (2010.896, 233), (2010.954, 227), (2010.931, 221), (2010.919, 213), (2010.908, 207),
    (2010.896, 196), (2010.931, 192), (2010.873, 182), (2010.827, 161),
]

rho_ol = [
    (2001.845, 131), (2001.856, 140), (2001.868, 151), (2001.891, 192), (2001.914, 217), (2001.937, 225),
    (2001.960, 223), (2001.971, 192), (2001.983, 119), (2001.994, 151), (2002.006, 200), (2002.017, 221),
    (2002.029, 210), (2002.040, 241), (2002.052, 213), (2002.069, 250), (2002.086, 233), (2002.097, 205),
    (2002.115, 250), (2002.132, 200), (2002.143, 266), (2002.166, 282), (2002.189, 294), (2002.212, 296),
    (2002.223, 254), (2002.232, 50), (2002.273, 50), (2002.275, 84), (2002.287, 50), (2002.325, 50),
    (2002.327, 131), (2002.350, 160), (2002.361, 160), (2002.367, 50),
    (2002.711, 50), (2002.713, 170), (2002.716, 50), (2002.780, 50), (2002.782, 92), (2002.785, 50),
    (2002.820, 50), (2002.828, 155), (2002.845, 110), (2002.857, 176), (2002.874, 178), (2002.880, 50),
    (2002.891, 50), (2002.897, 131), (2002.914, 176), (2002.931, 192), (2002.954, 213), (2002.971, 172),
    (2002.989, 168), (2003.011, 184), (2003.029, 205), (2003.046, 200), (2003.069, 217), (2003.086, 233),
    (2003.103, 241), (2003.126, 266), (2003.149, 290), (2003.172, 307), (2003.201, 321), (2003.218, 319),
    (2003.225, 50), (2003.258, 50), (2003.264, 160), (2003.275, 127), (2003.287, 160), (2003.292, 50),
    (2003.740, 50), (2003.742, 160), (2003.750, 110), (2003.754, 50), (2003.786, 50), (2003.788, 119),
    (2003.795, 50), (2003.815, 50), (2003.828, 151), (2003.868, 225), (2003.891, 200), (2003.914, 172),
    (2003.937, 200), (2003.960, 225), (2003.971, 213), (2003.989, 237), (2004.006, 221), (2004.017, 250),
    (2004.040, 240), (2004.063, 258), (2004.086, 274), (2004.109, 303), (2004.132, 297), (2004.155, 311),
    (2004.178, 282), (2004.201, 266), (2004.223, 290), (2004.246, 274), (2004.269, 286), (2004.292, 292),
    (2004.315, 290), (2004.322, 50), (2004.348, 50), (2004.350, 151), (2004.355, 50),
    (2004.780, 50), (2004.782, 151), (2004.785, 50), (2004.880, 50), (2004.888, 75), (2004.895, 50),
    (2004.900, 140), (2004.920, 165), (2004.940, 190), (2004.960, 213), (2004.980, 225), (2005.000, 233),
    (2005.023, 262), (2005.046, 221), (2005.069, 205), (2005.092, 266), (2005.115, 233), (2005.126, 250),
    (2005.149, 258), (2005.172, 250), (2005.195, 274), (2005.218, 299), (2005.241, 319), (2005.258, 331),
    (2005.275, 209), (2005.287, 258), (2005.310, 270), (2005.318, 50),
    (2005.746, 50), (2005.748, 155), (2005.754, 50), (2005.880, 50), (2005.885, 70), (2005.897, 110),
    (2005.908, 139), (2005.920, 168), (2005.931, 192), (2005.943, 205), (2005.954, 209), (2005.966, 200),
    (2005.977, 221), (2005.989, 233), (2006.000, 229), (2006.011, 250), (2006.023, 241), (2006.034, 258),
    (2006.046, 254), (2006.057, 266), (2006.069, 258), (2006.080, 274), (2006.092, 270), (2006.103, 278),
    (2006.115, 266), (2006.126, 282), (2006.138, 274), (2006.149, 294), (2006.160, 290), (2006.172, 307),
    (2006.183, 303), (2006.195, 315), (2006.218, 319), (2006.241, 327), (2006.264, 339), (2006.287, 348),
    (2006.309, 352), (2006.332, 339), (2006.355, 315), (2006.367, 307), (2006.372, 50), (2006.411, 50),
    (2006.413, 143), (2006.419, 50),
    (2006.860, 50), (2006.862, 143), (2006.868, 60), (2006.873, 50), (2006.880, 50), (2006.885, 151),
    (2006.890, 50), (2006.896, 123), (2006.908, 147), (2006.914, 50), (2006.919, 100), (2006.925, 50),
    (2006.931, 151), (2006.937, 50), (2006.942, 147), (2006.954, 135), (2006.965, 110), (2006.977, 147),
    (2006.982, 60), (2006.988, 50), (2007.000, 150), (2007.012, 155), (2007.023, 168), (2007.035, 188),
    (2007.046, 180), (2007.058, 160), (2007.069, 200), (2007.092, 213), (2007.104, 237), (2007.115, 233),
    (2007.127, 250), (2007.150, 258), (2007.173, 266), (2007.196, 270), (2007.207, 180), (2007.219, 213),
    (2007.231, 245), (2007.254, 258), (2007.262, 50), (2007.378, 50), (2007.380, 164), (2007.385, 50),
    (2007.721, 50), (2007.723, 135), (2007.727, 50), (2007.845, 50), (2007.850, 160), (2007.862, 143),
    (2007.873, 192), (2007.885, 200), (2007.896, 213), (2007.908, 217), (2007.919, 172), (2007.931, 192),
    (2007.942, 250), (2007.954, 258), (2007.965, 266), (2007.977, 270), (2007.988, 262), (2008.000, 266),
    (2008.012, 274), (2008.023, 270), (2008.035, 274), (2008.046, 307), (2008.058, 331), (2008.069, 339),
    (2008.081, 323), (2008.092, 315), (2008.104, 303), (2008.115, 315), (2008.127, 331), (2008.138, 339),
    (2008.150, 344), (2008.161, 348), (2008.173, 331), (2008.184, 315), (2008.196, 307), (2008.207, 282),
    (2008.219, 250), (2008.231, 266), (2008.242, 290), (2008.254, 311), (2008.265, 315), (2008.277, 307),
    (2008.288, 315), (2008.300, 319), (2008.311, 327), (2008.323, 337), (2008.334, 331), (2008.342, 50),
    (2008.750, 50), (2008.752, 149), (2008.764, 131), (2008.770, 50), (2008.805, 50), (2008.810, 139),
    (2008.821, 143), (2008.828, 50), (2008.875, 50), (2008.890, 131), (2008.914, 168), (2008.937, 192),
    (2008.960, 209), (2008.983, 225), (2008.994, 241), (2009.006, 258), (2009.017, 254), (2009.029, 266),
    (2009.040, 258), (2009.052, 274), (2009.063, 266), (2009.075, 278), (2009.086, 266), (2009.098, 282),
    (2009.110, 294), (2009.121, 290), (2009.133, 299), (2009.144, 294), (2009.156, 307), (2009.167, 299),
    (2009.179, 311), (2009.190, 315), (2009.202, 307), (2009.213, 315), (2009.225, 319), (2009.236, 311),
    (2009.248, 315), (2009.259, 319), (2009.271, 323), (2009.282, 319), (2009.294, 325), (2009.305, 323),
    (2009.315, 50), (2009.327, 50), (2009.329, 90), (2009.335, 50),
    (2009.825, 50), (2009.827, 139), (2009.833, 50), (2009.848, 50), (2009.850, 147), (2009.856, 50),
    (2009.870, 50), (2009.873, 151), (2009.885, 131), (2009.896, 147), (2009.908, 120), (2009.919, 168),
    (2009.931, 176), (2009.942, 184), (2009.954, 188), (2009.965, 176), (2009.977, 184), (2009.988, 168),
    (2010.000, 200), (2010.012, 205), (2010.023, 209), (2010.035, 229), (2010.046, 225), (2010.058, 217),
    (2010.069, 233), (2010.081, 241), (2010.092, 250), (2010.104, 241), (2010.115, 250), (2010.127, 225),
    (2010.138, 217), (2010.150, 241), (2010.161, 274), (2010.173, 290), (2010.184, 299), (2010.196, 307),
    (2010.207, 299), (2010.219, 311), (2010.231, 299), (2010.242, 274), (2010.254, 241), (2010.265, 217),
    (2010.277, 233), (2010.288, 245), (2010.300, 258), (2010.311, 241), (2010.320, 50), (2010.344, 50),
    (2010.346, 137), (2010.352, 50),
    (2010.791, 50), (2010.793, 160), (2010.799, 50), (2010.814, 50), (2010.816, 151), (2010.822, 50),
    (2010.837, 50), (2010.839, 143), (2010.845, 50), (2010.860, 50), (2010.862, 145), (2010.873, 155),
    (2010.885, 151), (2010.896, 155), (2010.908, 176), (2010.919, 172), (2010.931, 192), (2010.942, 184),
    (2010.954, 200), (2010.965, 209), (2010.977, 205), (2010.988, 233), (2011.000, 225), (2011.012, 241),
    (2011.023, 225), (2011.035, 250), (2011.046, 225), (2011.058, 245), (2011.069, 250), (2011.081, 258),
    (2011.092, 266), (2011.104, 274), (2011.115, 270), (2011.127, 278), (2011.138, 266), (2011.150, 241),
    (2011.161, 196), (2011.173, 233), (2011.184, 245), (2011.196, 254), (2011.207, 258), (2011.219, 250),
    (2011.231, 254), (2011.242, 50), (2011.390, 50),
]

# ---------------- page geometry (pixels on a 785 x 1637 page) ----------------
W, H = 785, 1637
FONT = "DejaVu Sans"
AXIS_GRAY = "#6e6e6e"
GRID = "#e4e4e4"
TEXT = "#262626"
BLUE = "#0000ff"
BOX_GRAY = "#8a8a8a"


def fx(px):
    return px / W


def fy(px):
    return 1 - px / H


def split(pairs):
    return [p[0] for p in pairs], [p[1] for p in pairs]


fig = go.Figure()

# panel a: snow depth (observed line under the open-loop line)
t, v = split(depth_obs)
fig.add_trace(go.Scatter(x=t, y=v, mode="lines", name="Obs", line=dict(color="black", width=1),
                         xaxis="x", yaxis="y", showlegend=False))
t, v = split(depth_ol)
fig.add_trace(go.Scatter(x=t, y=v, mode="lines", name="OL", line=dict(color=BLUE, width=1),
                         xaxis="x", yaxis="y", showlegend=False))

# panel b: SWE
t, v = split(swe_ol)
fig.add_trace(go.Scatter(x=t, y=v, mode="lines", name="OL", line=dict(color=BLUE, width=1),
                         xaxis="x2", yaxis="y2", showlegend=False))
t, v = split(swe_obs)
fig.add_trace(go.Scatter(x=t, y=v, mode="markers", name="Obs", marker=dict(color="black", size=3.5),
                         xaxis="x2", yaxis="y2", showlegend=False))

# panel c: snow density
t, v = split(rho_ol)
fig.add_trace(go.Scatter(x=t, y=v, mode="lines", name="OL", line=dict(color=BLUE, width=1),
                         xaxis="x3", yaxis="y3", showlegend=False))
t, v = split(rho_obs)
fig.add_trace(go.Scatter(x=t, y=v, mode="markers", name="Obs", marker=dict(color="black", size=3.5),
                         xaxis="x3", yaxis="y3", showlegend=False))


def xaxis(anchor, rng):
    return dict(domain=[fx(172), fx(728)], anchor=anchor, range=rng,
                tickmode="array", tickvals=years, ticktext=year_labels, tickangle=-45,
                showgrid=True, gridcolor=GRID, gridwidth=1, zeroline=False,
                showline=True, linecolor=AXIS_GRAY, linewidth=1, mirror=False,
                ticks="inside", ticklen=5, tickcolor=AXIS_GRAY, automargin=False,
                tickfont=dict(family=FONT, size=19, color=TEXT))


def yaxis(anchor, top_px, bot_px, rng, vals, labels=None):
    d = dict(domain=[fy(bot_px), fy(top_px)], anchor=anchor, range=rng,
             tickmode="array", tickvals=vals,
             showgrid=True, gridcolor=GRID, gridwidth=1, zeroline=False,
             showline=True, linecolor=AXIS_GRAY, linewidth=1, mirror=False,
             ticks="inside", ticklen=5, tickcolor=AXIS_GRAY, automargin=False,
             tickfont=dict(family=FONT, size=19, color=TEXT))
    if labels is not None:
        d["ticktext"] = labels
    return d


def text(s, x, y, size, **kw):
    d = dict(text=s, x=fx(x), y=fy(y), xref="paper", yref="paper", showarrow=False,
             xanchor="center", yanchor="middle",
             font=dict(family=kw.pop("family", FONT), size=size, color=kw.pop("color", "black")))
    d.update(kw)
    return d


def kge_box(value, left, top):
    return dict(text="KGE = " + value, x=fx(left), y=fy(top), xref="paper", yref="paper",
                xanchor="left", yanchor="top", showarrow=False, align="left",
                width=132, height=24, borderpad=3, borderwidth=1, bordercolor=BOX_GRAY,
                bgcolor="white", font=dict(family=FONT, size=16, color="black"))


def rect(x0, y0, x1, y1, color, width, fill="rgba(0,0,0,0)"):
    return dict(type="rect", xref="paper", yref="paper", x0=fx(x0), x1=fx(x1), y0=fy(y1), y1=fy(y0),
                line=dict(color=color, width=width), fillcolor=fill, layer="above")


def hline(x0, x1, y, color):
    return dict(type="line", xref="paper", yref="paper", x0=fx(x0), x1=fx(x1), y0=fy(y), y1=fy(y),
                line=dict(color=color, width=1), layer="above")


def dot(x, y, r=1.8):
    return dict(type="circle", xref="paper", yref="paper", x0=fx(x - r), x1=fx(x + r),
                y0=fy(y + r), y1=fy(y - r), line=dict(color="black", width=0),
                fillcolor="black", layer="above")


annotations = [
    text("<b>CDP site - Snow depth</b>", 450, 32, 22),
    text("<b>CDP site - SWE</b>", 450, 579, 22),
    text("<b>CDP site - Snow density</b>", 450, 1123, 22),
    kge_box(kge_depth, 594, 9),
    kge_box(kge_swe, 594, 558),
    kge_box(kge_rho, 606, 1103),
    text("[m]", 140, 276, 20, textangle=-90, color=TEXT),
    text("[mm]", 112, 803, 20, textangle=-90, color=TEXT),
    text("[kg/m3]", 107, 1358, 21, textangle=-90, color=TEXT),
    text("Date [yr]", 436, 531, 21, color=TEXT),
    text("Date [yr]", 436, 1078, 21, color=TEXT),
    text("Date [yr]", 436, 1623, 21, color=TEXT),
    text("a)", 33, 249, 24, family="Liberation Serif"),
    text("b)", 33, 779, 24, family="Liberation Serif"),
    text("c)", 33, 1369, 24, family="Liberation Serif"),
    # legend labels
    text("Obs", 600, 528, 16),
    text("OL", 708, 528, 16),
    text("Obs", 603, 1075.5, 16),
    text("OL", 708, 1075.5, 16),
    text("Obs", 603, 1618.5, 16),
    text("OL", 709, 1618.5, 16),
]

shapes = [
    # panel frames
    rect(77, 4, 783, 545, "black", 2),
    rect(77, 553, 783, 1092, "black", 2),
    rect(77, 1097, 783, 1635, "black", 2),
    # legend a
    rect(512, 515, 728, 541, BOX_GRAY, 1, "white"),
    hline(517, 579, 528, "black"),
    hline(628, 691, 528, BLUE),
    # legend b
    rect(512, 1063, 728, 1088, BOX_GRAY, 1, "white"),
    dot(548, 1075.5),
    hline(630, 690, 1075.5, BLUE),
    # legend c
    rect(509, 1605, 728, 1632, BOX_GRAY, 1, "white"),
    dot(547, 1618.5),
    hline(630, 690, 1618.5, BLUE),
]

fig.update_layout(
    width=W, height=H, autosize=False, margin=dict(l=0, r=0, t=0, b=0, pad=0, autoexpand=False),
    paper_bgcolor="white", plot_bgcolor="white", showlegend=False,
    xaxis=xaxis("y", [2001.805, 2011.39]),
    yaxis=yaxis("x", 45.5, 455.0, [-0.005, 2.1], depth_ticks, depth_tick_labels),
    xaxis2=xaxis("y2", [2001.808, 2011.25]),
    yaxis2=yaxis("x2", 595.5, 1000.7, [-1, 600], swe_ticks),
    xaxis3=xaxis("y3", [2001.805, 2011.39]),
    yaxis3=yaxis("x3", 1138.3, 1546.4, [49.5, 550], rho_ticks),
    annotations=annotations,
    shapes=shapes,
)

fig.write_html(
    "out.html",
    config={"responsive": False},
    post_script="document.body.style.margin='0';document.documentElement.style.overflow='hidden';",
)
